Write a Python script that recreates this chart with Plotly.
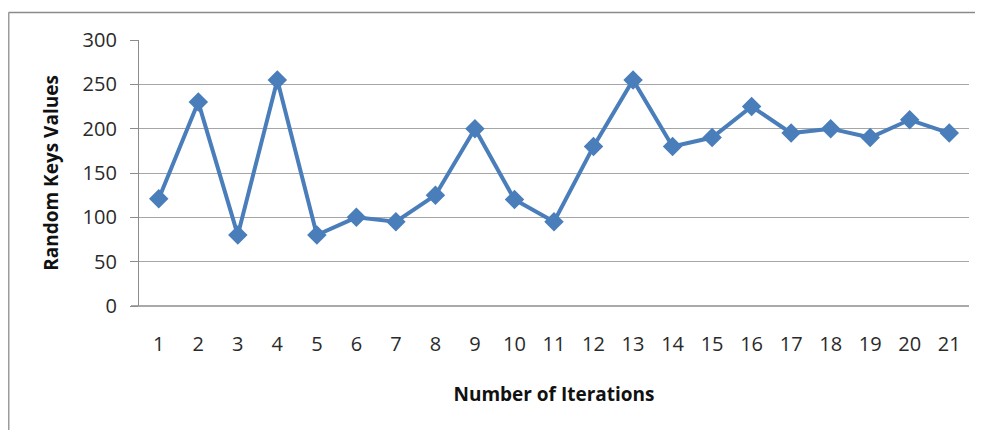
import plotly.graph_objects as go

iterations = [str(i) for i in range(1, 22)]
random_keys = [121, 230, 80, 255, 80, 100, 95, 125, 200, 120, 95, 180, 255, 180, 190, 225, 195, 200, 190, 210, 195]
y_ticks = [0, 50, 100, 150, 200, 250, 300]

# page has an 8px body margin; figure fills the rest of the 983x430 window
OFF = 8
W, H = 983 - OFF, 430 - OFF
L, R, T, B = 139 - OFF, 14, 40 - OFF, 124
pw, ph = W - L - R, H - T - B

def px(x):
    return (x - OFF - L) / pw

def py(y):
    return (H - B - (y - OFF)) / ph

fig = go.Figure()
fig.add_trace(go.Scatter(
    x=iterations, y=random_keys, mode="lines+markers",
    line=dict(color="#4a7ebb", width=4),
    marker=dict(symbol="diamond", size=15, color="#4a7ebb"),
    showlegend=False,
))

font_family = "Open Sans, Liberation Sans, sans-serif"
fig.update_layout(
    width=W, height=H,
    margin=dict(l=L, r=R, t=T, b=B),
    paper_bgcolor="white", plot_bgcolor="white",
    font=dict(family=font_family, size=20, color="#2a2a2a"),
    xaxis=dict(
        type="category", range=[-0.5, 20.5],
        showgrid=False, showline=False, ticks="",
        ticklabelstandoff=24, automargin=False,
        tickfont=dict(size=20),
        title=dict(text="<b>Number of Iterations</b>", font=dict(size=19, color="#111"), standoff=31),
    ),
    yaxis=dict(
        range=[0, 300], tickvals=y_ticks,
        showgrid=True, gridcolor="#a6a6a6", gridwidth=1.3,
        showline=True, linecolor="#8c8c8c", linewidth=1.3,
        ticks="outside", ticklen=8, tickcolor="#8c8c8c", tickwidth=1.3,
        ticklabelstandoff=9, automargin=False,
        tickfont=dict(size=20),
        zeroline=False,
        title=dict(text="<b>Random Keys Values</b>", font=dict(size=19, color="#111"), standoff=18),
    ),
    shapes=[
        dict(type="line", xref="paper", yref="paper", x0=px(8.5), x1=px(990), y0=py(12.5), y1=py(12.5),
             line=dict(color="#8a8a8a", width=1.5)),
        dict(type="line", xref="paper", yref="paper", x0=px(8.5), x1=px(8.5), y0=py(12.5), y1=py(440),
             line=dict(color="#9c9c9c", width=2)),
        dict(type="line", xref="paper", yref="paper", x0=px(131), x1=1, y0=0, y1=0,
             line=dict(color="#8c8c8c", width=1.3)),
    ],
)

fig.write_html("out.html")
